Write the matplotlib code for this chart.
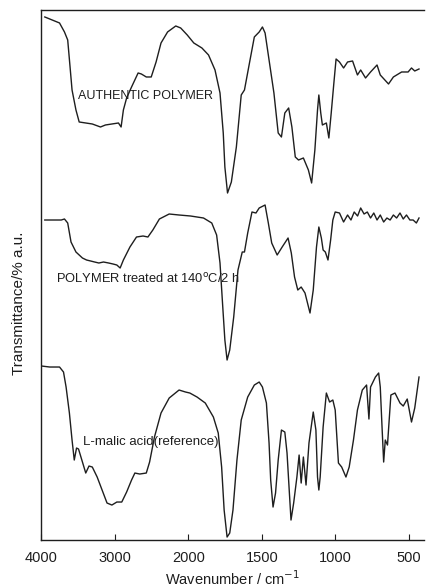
import numpy as np
import matplotlib
matplotlib.use("Agg")
import matplotlib.pyplot as plt

plt.rcParams['font.family'] = ['Liberation Sans', 'DejaVu Sans']

# ---- data (wavenumber cm-1, transmittance in arbitrary offset units) ----
wn_auth = [3947, 3747, 3680, 3636, 3604, 3577, 3524, 3480, 3391, 3302, 3191, 3124, 3036,
           2947, 2911, 2880, 2836, 2769, 2680, 2636, 2569, 2502, 2436, 2369, 2280, 2169,
           2102, 2013, 1962, 1907, 1862, 1818, 1784, 1762, 1751, 1733, 1707, 1673, 1640,
           1618, 1584, 1551, 1518, 1496, 1478, 1451, 1418, 1389, 1367, 1344, 1318, 1296,
           1273, 1251, 1218, 1184, 1162, 1140, 1122, 1113, 1100, 1089, 1062, 1045, 1029,
           1011, 996, 973, 945, 918, 884, 851, 829, 796, 762, 718, 696, 640, 607, 551,
           507, 484, 462, 433]
t_auth = [523, 517, 508, 500, 473, 450, 430, 418, 417, 416, 413, 415, 416,
          417, 413, 430, 442, 453, 467, 466, 463, 463, 478, 497, 508, 514,
          512, 505, 497, 492, 485, 470, 447, 407, 373, 347, 358, 393, 445,
          450, 477, 503, 508, 513, 507, 480, 447, 407, 403, 427, 432, 413,
          383, 380, 382, 370, 357, 390, 430, 445, 427, 415, 417, 402, 427,
          457, 481, 478, 472, 478, 479, 465, 470, 462, 468, 475, 465, 456, 463, 468,
          468, 472, 469, 471]

wn_heat = [3947, 3724, 3680, 3636, 3591, 3524, 3436, 3380, 3324, 3270, 3213, 3150, 3080,
           3020, 2969, 2924, 2880, 2791, 2702, 2613, 2547, 2480, 2391, 2258, 2124,
           1984, 1896, 1840, 1807, 1784, 1767, 1751, 1736, 1718, 1691, 1662, 1633,
           1618, 1596, 1567, 1540, 1518, 1478, 1456, 1433, 1396, 1362, 1322, 1300,
           1278, 1256, 1233, 1207, 1173, 1151, 1129, 1113, 1096, 1084, 1069, 1051,
           1033, 1018, 1002, 973, 945, 918, 895, 873, 850, 829, 806, 784, 762, 740,
           718, 696, 673, 651, 629, 607, 585, 562, 540, 518, 495, 473, 451, 433]
t_heat = [320, 320, 321, 317, 298, 288, 282, 280, 279, 278, 277, 278, 277,
          276, 275, 272, 280, 293, 303, 304, 303, 310, 321, 326, 325,
          324, 322, 317, 305, 277, 237, 200, 180, 190, 223, 270, 288,
          288, 307, 328, 327, 332, 335, 317, 297, 285, 293, 302, 287,
          263, 250, 253, 247, 227, 250, 293, 313, 302, 290, 288, 280,
          300, 320, 328, 327, 318, 325, 320, 328, 324, 332, 326, 328, 322, 327,
          320, 325, 318, 322, 320, 325, 322, 327, 321, 325, 320, 320, 317, 322]

wn_mal = [3991, 3880, 3747, 3693, 3658, 3613, 3577, 3547, 3516, 3489, 3444, 3391, 3347,
          3302, 3236, 3169, 3102, 3036, 2969, 2902, 2836, 2769, 2724, 2658, 2569,
          2524, 2458, 2369, 2258, 2124, 2036, 1989, 1940, 1884, 1829, 1796, 1773,
          1756, 1736, 1718, 1696, 1669, 1640, 1596, 1551, 1518, 1496, 1469, 1451,
          1440, 1424, 1407, 1389, 1367, 1344, 1329, 1313, 1302, 1284, 1262, 1247,
          1233, 1218, 1200, 1180, 1151, 1133, 1122, 1113, 1104, 1084, 1062, 1040,
          1018, 1002, 980, 958, 929, 907, 878, 851, 818, 789, 773, 762, 729, 707,
          696, 684, 673, 662, 647, 624, 596, 562, 540, 513, 484, 462, 433]
t_mal = [174, 173, 173, 168, 153, 127, 100, 80, 92, 91, 80, 67, 74,
         73, 63, 50, 37, 35, 38, 38, 48, 60, 67, 66, 67,
         78, 103, 127, 142, 150, 148, 147, 143, 137, 123, 107, 73,
         30, 3, 7, 30, 80, 120, 143, 155, 158, 153, 137, 97,
         60, 33, 47, 80, 110, 108, 87, 47, 20, 37, 63, 85,
         57, 83, 55, 97, 128, 110, 63, 50, 63, 113, 147, 138,
         140, 130, 77, 73, 63, 73, 100, 130, 150, 155, 121, 153, 163, 167,
         153, 113, 78, 100, 95, 145, 147, 137, 134, 141, 118, 132, 163]

tick_vals = [4000, 3000, 2000, 1500, 1000, 500]
tick_labels = ["4000", "3000", "2000", "1500", "1000", "500"]

labels = ["AUTHENTIC POLYMER", "POLYMER treated at 140$^{\\rm o}$C/2 h", "L-malic acid(reference)"]

# ---- scale: 2x expansion below 2000 cm-1 ----
def fwd(x):
    x = np.asarray(x, dtype=float)
    return np.where(x >= 2000, x, 2 * x - 2000)

def inv(y):
    y = np.asarray(y, dtype=float)
    return np.where(y >= 2000, y, (y + 2000) / 2)

fig = plt.figure(figsize=(4.26, 5.87), dpi=100)
ax = fig.add_axes([0.096, 0.08, 0.899, 0.903])
ax.set_xscale('function', functions=(fwd, inv))

col = '#1e1e1e'
for wn, t in [(wn_auth, t_auth), (wn_heat, t_heat), (wn_mal, t_mal)]:
    ax.plot(wn, t, color=col, lw=1.0)

ax.set_xlim(4000, 400)
ax.set_ylim(0, 530)
ax.set_xticks(tick_vals)
ax.set_xticklabels(tick_labels)
ax.minorticks_off()
ax.set_yticks([])
ax.tick_params(axis='x', direction='in', length=4, width=0.8, labelsize=10.5, pad=8, colors=col)
for s in ['left', 'bottom', 'top']:
    ax.spines[s].set_linewidth(1.0)
    ax.spines[s].set_color(col)
ax.spines['right'].set_visible(False)

ax.set_xlabel("Wavenumber / cm$^{-1}$", fontsize=10.5, labelpad=3, color=col)
fig.text(0.045, 0.484, "Transmittance/% a.u.", rotation=90, ha='center', va='center',
         fontsize=11, color=col)

# annotations (placed in axes coordinates)
ax.text(0.097, (540 - 96) / 530, labels[0], fontsize=9, va='center', ha='left',
        transform=ax.transAxes, color=col)
ax.text(0.039, (540 - 279) / 530, labels[1], fontsize=9.3, va='center', ha='left',
        transform=ax.transAxes, color=col)
ax.text(0.110, (540 - 442) / 530, labels[2], fontsize=9.5, va='center', ha='left',
        transform=ax.transAxes, color=col)

fig.savefig("out.png", dpi=100)
